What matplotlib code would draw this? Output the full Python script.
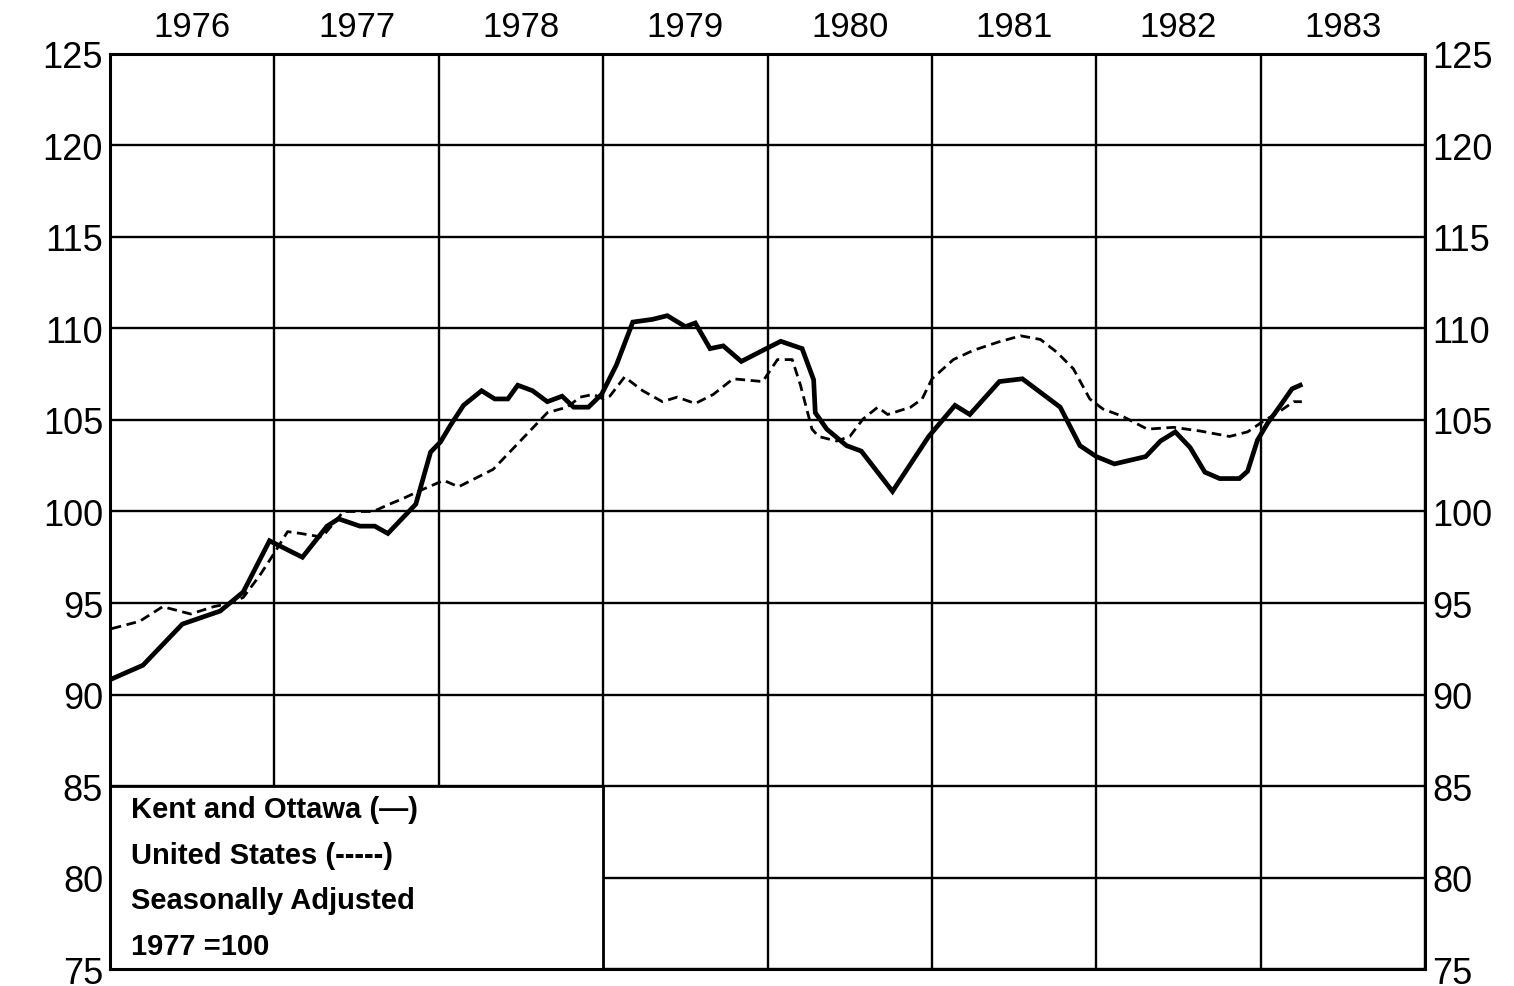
import matplotlib.pyplot as plt
from matplotlib.patches import Rectangle

# Kent and Ottawa index (solid), decimal year vs value
kent_t = [1976.01, 1976.20, 1976.44, 1976.67, 1976.81, 1976.97, 1977.17, 1977.32,
          1977.39, 1977.52, 1977.61, 1977.69, 1977.86, 1977.95, 1978.01, 1978.07,
          1978.15, 1978.26, 1978.34, 1978.42, 1978.48, 1978.57, 1978.66, 1978.75,
          1978.82, 1978.91, 1978.99, 1979.08, 1979.18, 1979.30, 1979.39, 1979.50,
          1979.56, 1979.65, 1979.73, 1979.84, 1979.97, 1980.08, 1980.21, 1980.28,
          1980.29, 1980.36, 1980.48, 1980.57, 1980.76, 1980.98, 1981.14, 1981.23,
          1981.41, 1981.55, 1981.78, 1981.90, 1982.00, 1982.11, 1982.30, 1982.39,
          1982.48, 1982.57, 1982.66, 1982.75, 1982.87, 1982.92, 1982.98, 1983.04,
          1983.12, 1983.19, 1983.24]
kent_v = [90.85, 91.6, 93.85, 94.56, 95.6, 98.4, 97.5, 99.2,
          99.6, 99.2, 99.2, 98.8, 100.4, 103.25, 103.8, 104.7,
          105.8, 106.6, 106.15, 106.15, 106.9, 106.6, 106.0, 106.3,
          105.7, 105.7, 106.4, 108.0, 110.35, 110.5, 110.7, 110.1,
          110.3, 108.9, 109.05, 108.2, 108.8, 109.3, 108.9, 107.2,
          105.4, 104.5, 103.6, 103.3, 101.1, 104.1, 105.8, 105.3,
          107.1, 107.25, 105.7, 103.6, 103.0, 102.6, 103.0, 103.85,
          104.35, 103.5, 102.15, 101.8, 101.8, 102.2, 103.9, 104.8,
          105.8, 106.7, 106.9]

# United States index (dashed)
us_t = [1976.01, 1976.18, 1976.32, 1976.49, 1976.63, 1976.71, 1976.81, 1976.91,
        1976.99, 1977.08, 1977.16, 1977.29, 1977.42, 1977.60, 1977.70, 1977.78,
        1977.90, 1978.03, 1978.12, 1978.33, 1978.49, 1978.66, 1978.78, 1978.86,
        1978.94, 1979.00, 1979.04, 1979.13, 1979.24, 1979.36, 1979.45, 1979.56,
        1979.67, 1979.79, 1979.97, 1980.06, 1980.15, 1980.20, 1980.27, 1980.31,
        1980.42, 1980.50, 1980.58, 1980.67, 1980.73, 1980.87, 1980.94, 1981.00,
        1981.13, 1981.25, 1981.40, 1981.54, 1981.66, 1981.76, 1981.86, 1981.96,
        1982.04, 1982.16, 1982.31, 1982.47, 1982.63, 1982.81, 1982.92, 1983.01,
        1983.12, 1983.20, 1983.25]
us_v = [93.6, 94.0, 94.8, 94.4, 94.8, 94.95, 95.3, 96.5,
        97.6, 98.9, 98.8, 98.6, 100.0, 100.0, 100.4, 100.7,
        101.2, 101.7, 101.35, 102.3, 103.8, 105.4, 105.7, 106.25,
        106.4, 106.15, 106.3, 107.35, 106.6, 106.0, 106.25, 105.9,
        106.4, 107.25, 107.1, 108.3, 108.3, 106.9, 104.5, 104.1,
        103.85, 104.1, 105.05, 105.7, 105.3, 105.7, 106.15, 107.25,
        108.3, 108.8, 109.25, 109.6, 109.4, 108.7, 107.8, 106.15,
        105.6, 105.2, 104.5, 104.6, 104.4, 104.1, 104.35, 104.9,
        105.5, 106.0, 106.0]

years = [1976, 1977, 1978, 1979, 1980, 1981, 1982, 1983]
yticks = [75, 80, 85, 90, 95, 100, 105, 110, 115, 120, 125]
legend_lines = ['Kent and Ottawa (\u2014)', 'United States (-----)',
                'Seasonally Adjusted', '1977 =100']

plt.rcParams['font.family'] = ['Liberation Sans', 'DejaVu Sans']

fig = plt.figure(figsize=(15.14, 9.87), dpi=100)
ax = fig.add_axes([0.0727, 0.0172, 0.8686, 0.9271])

ax.set_xlim(1976, 1984)
ax.set_ylim(75, 125)

# grid
ax.set_xticks(range(1976, 1985))
ax.set_xticklabels([])
ax.set_yticks(yticks)
ax.set_yticklabels([str(v) for v in yticks], fontsize=26)
ax.tick_params(axis='both', length=0)
ax.tick_params(axis='y', pad=5, labelright=True)
ax.grid(True, color='black', linewidth=1.7)
ax.set_axisbelow(True)
for s in ax.spines.values():
    s.set_linewidth(2.2)

# year labels across the top
for y in years:
    ax.text(y + 0.5, 125.6, str(y), ha='center', va='bottom', fontsize=25)

ax.plot(kent_t, kent_v, color='black', linewidth=3.4, solid_joinstyle='miter', zorder=3)
ax.plot(us_t, us_v, color='black', linewidth=2.0, linestyle=(0, (3.5, 2.0)), zorder=3)

# legend box
ax.add_patch(Rectangle((1976, 75), 3, 10, facecolor='white', edgecolor='black',
                       linewidth=2.0, zorder=2))
for i, line in enumerate(legend_lines):
    ax.text(1976.13, 83.75 - i * 2.5, line, fontsize=21, fontweight='bold',
            va='center', ha='left', zorder=4)

fig.savefig('out.png', dpi=100)
